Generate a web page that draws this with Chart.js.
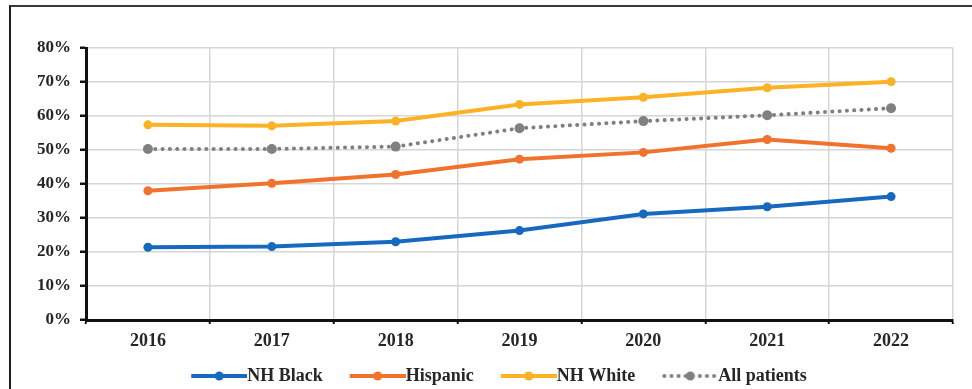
<!DOCTYPE html>
<html>
<head>
<meta charset="utf-8">
<script src="https://cdn.jsdelivr.net/npm/chart.js@4.4.1/dist/chart.umd.min.js"></script>
<style>
    html, body { margin: 0; padding: 0; background: #fff; overflow: hidden; }
    #wrap { position: relative; width: 972px; height: 389px; overflow: hidden; }
    #frame { position: absolute; left: 9px; top: 5px; width: 990px; height: 420px;
             border-top: 2px solid #3a3a3a; border-left: 2px solid #1e1e1e; }
    #chart { position: absolute; left: 0; top: 0; }
</style>
</head>
<body>
<div id="wrap">
    <div id="frame"></div>
    <canvas id="chart" width="972" height="396"></canvas>
</div>
<script>
// DATA (share of patients, %)
const YEARS = ['2016', '2017', '2018', '2019', '2020', '2021', '2022'];
const NH_BLACK = [21.4, 21.6, 23.0, 26.3, 31.2, 33.3, 36.3];
const HISPANIC = [38.0, 40.2, 42.8, 47.3, 49.3, 53.1, 50.5];
const NH_WHITE = [57.4, 57.1, 58.5, 63.4, 65.5, 68.3, 70.1];
const ALL_PATIENTS = [50.3, 50.3, 51.0, 56.4, 58.5, 60.2, 62.3];
const Y_MIN = 0, Y_MAX = 80, Y_STEP = 10;

const SERIES_NAMES = ['NH Black', 'Hispanic', 'NH White', 'All patients'];
const SERIES_COLORS = ['#1769c0', '#f0722c', '#fbb225', '#808080'];

const FONT = "'Liberation Serif', 'Times New Roman', serif";
const TEXT = '#262626';
const GRID = '#d6d6d6';

// legend sample: short line with a marker in the middle
const LEG_BOX = 62;
function swatch(color, dotted) {
    const c = document.createElement('canvas');
    c.width = 80; c.height = 12;
    const g = c.getContext('2d');
    g.strokeStyle = color; g.fillStyle = color;
    g.lineWidth = 4; g.lineCap = dotted ? 'round' : 'butt';
    if (dotted) g.setLineDash([0.1, 7]);
    g.beginPath(); g.moveTo(dotted ? 26 : 24, 6); g.lineTo(dotted ? 78 : 80, 6); g.stroke();
    g.beginPath(); g.arc(52, 6, 4.5, 0, Math.PI * 2); g.fill();
    return c;
}

function makeSet(i, data) {
    const dotted = i === 3;
    return {
        label: SERIES_NAMES[i],
        data: data,
        borderColor: SERIES_COLORS[i],
        backgroundColor: SERIES_COLORS[i],
        borderWidth: 4,
        borderDash: dotted ? [0.1, 7.2] : [],
        borderCapStyle: dotted ? 'round' : 'butt',
        pointRadius: dotted ? 5 : 4.5,
        pointBorderWidth: 0,
        pointBackgroundColor: SERIES_COLORS[i],
        tension: 0,
        fill: false
    };
}

const datasets = [
    makeSet(0, NH_BLACK),
    makeSet(1, HISPANIC),
    makeSet(2, NH_WHITE),
    makeSet(3, ALL_PATIENTS)
];
const swatches = SERIES_COLORS.map((c, i) => swatch(c, i === 3));

new Chart(document.getElementById('chart'), {
    type: 'line',
    data: { labels: YEARS, datasets: datasets },
    options: {
        responsive: false,
        animation: false,
        events: [],
        layout: { padding: { left: 30, right: 19, top: 48, bottom: 1 } },
        plugins: {
            tooltip: { enabled: false },
            legend: {
                position: 'bottom',
                labels: {
                    usePointStyle: true,
                    pointStyleWidth: LEG_BOX,
                    padding: 12,
                    color: TEXT,
                    font: { family: FONT, size: 18, weight: 'bold' },
                    generateLabels: (chart) => chart.data.datasets.map((ds, i) => ({
                        text: ds.label,
                        pointStyle: swatches[i],
                        fillStyle: ds.borderColor,
                        strokeStyle: ds.borderColor,
                        lineWidth: 0,
                        fontColor: TEXT,
                        hidden: false,
                        datasetIndex: i
                    }))
                }
            }
        },
        scales: {
            x: {
                offset: true,
                afterFit: (s) => { s.height = 35; },
                grid: { color: GRID, lineWidth: 1.5, offset: true, tickColor: '#111', tickWidth: 2, tickLength: 4 },
                border: { color: '#111', width: 3 },
                ticks: { color: TEXT, padding: 7, maxRotation: 0, font: { family: FONT, size: 18, weight: 'bold' } }
            },
            y: {
                min: Y_MIN,
                max: Y_MAX,
                afterFit: (s) => { s.width = 56; },
                grid: { color: GRID, lineWidth: 1.5, tickColor: '#111', tickWidth: 2.5, tickLength: 6 },
                border: { color: '#111', width: 3 },
                ticks: {
                    stepSize: Y_STEP,
                    padding: 9,
                    color: TEXT,
                    font: { family: FONT, size: 17, weight: 'bold' },
                    callback: (v) => v + '%'
                }
            }
        }
    }
});
</script>
</body>
</html>
